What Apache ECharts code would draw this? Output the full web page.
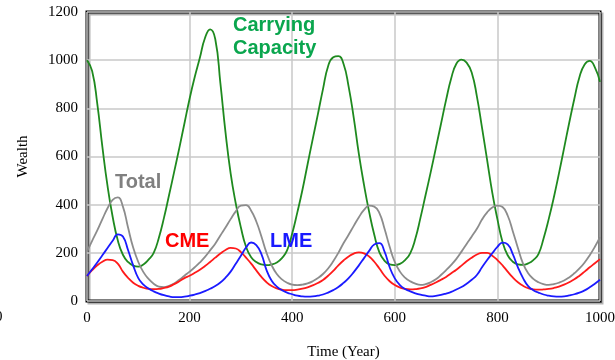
<!DOCTYPE html>
<html>
<head>
<meta charset="utf-8">
<script src="https://cdn.jsdelivr.net/npm/echarts@6/dist/echarts.min.js"></script>
<style>html,body{margin:0;padding:0;background:#fff;}#c{width:615px;height:360px;}</style>
</head>
<body>
<div id="c"></div>
<script>
// Time (Year) sample grid, every 10 years from 0 to 1000
const years = Array.from({length: 101}, (_, i) => i * 10);

const carryingCapacity = [
  1000, 955, 820, 640, 478, 350, 252, 192, 162, 147,
  143, 152, 172, 200, 262, 345, 440, 537, 636, 738,
  840, 930, 1010, 1092, 1128, 1088, 905, 700, 530, 405,
  305, 225, 182, 162, 152, 149, 152, 160, 178, 210,
  280, 368, 462, 568, 672, 775, 880, 975, 1012, 1017,
  985, 890, 760, 610, 482, 370, 275, 202, 167, 152,
  149, 154, 170, 198, 258, 345, 440, 535, 635, 735,
  835, 925, 985, 1002, 990, 948, 850, 720, 585, 450,
  340, 245, 190, 163, 152, 150, 156, 170, 195, 260,
  340, 430, 530, 635, 740, 840, 930, 982, 997, 970,
  910
];

const total = [
  205, 250, 293, 340, 385, 420, 430, 392, 305, 222,
  162, 120, 92, 72, 60, 58, 63, 73, 88, 105,
  122, 140, 160, 183, 210, 238, 272, 305, 340, 372,
  396, 398, 375, 330, 268, 200, 148, 112, 90, 76,
  68, 66, 68, 73, 82, 95, 112, 135, 165, 200,
  240, 275, 312, 348, 378, 396, 392, 365, 300, 225,
  162, 122, 97, 82, 72, 67, 70, 78, 90, 108,
  128, 150, 175, 205, 237, 268, 300, 338, 368, 388,
  396, 390, 355, 290, 220, 155, 115, 92, 78, 70,
  67, 70, 76, 85, 98, 115, 135, 160, 190, 225,
  265
];

const cme = [
  104, 128, 148, 163, 172, 170, 155, 122, 96, 76,
  63, 55, 50, 49, 50, 54, 60, 70, 82, 95,
  105, 117, 130, 145, 162, 180, 197, 212, 221, 218,
  203, 180, 155, 127, 100, 78, 62, 52, 47, 45,
  45, 47, 51, 57, 65, 75, 87, 105, 125, 148,
  168, 185, 197, 202, 198, 185, 163, 135, 105, 82,
  66, 56, 50, 48, 49, 52, 58, 67, 77, 88,
  100, 115, 130, 147, 165, 180, 193, 200, 200, 188,
  170, 148, 122, 98, 78, 63, 53, 48, 47, 48,
  50, 54, 60, 68, 78, 90, 105, 122, 140, 157,
  174
];

const lme = [
  104, 132, 160, 190, 220, 250, 277, 268, 212, 148,
  95, 68, 52, 40, 31, 24, 19, 16, 16, 18,
  22, 27, 33, 41, 51, 62, 77, 97, 122, 155,
  188, 222, 243, 232, 195, 128, 84, 60, 45, 35,
  28, 22, 19, 18, 19, 22, 27, 35, 45, 58,
  75, 95, 120, 148, 178, 208, 235, 240, 205, 140,
  94, 66, 50, 40, 32, 26, 22, 19, 21, 25,
  31, 38, 48, 58, 72, 88, 108, 140, 170, 198,
  225, 242, 235, 195, 140, 95, 62, 45, 35, 27,
  22, 19, 18, 19, 23, 28, 35, 44, 57, 72,
  88
];

const xTicks = [0, 200, 400, 600, 800, 1000];
const yTicks = [0, 200, 400, 600, 800, 1000, 1200];

function pairs(vals) { return years.map((y, i) => [y, vals[i]]); }

const chart = echarts.init(document.getElementById('c'), null, {renderer: 'canvas'});
const serif = '"Liberation Serif", "Times New Roman", serif';
const sans = '"Liberation Sans", Arial, sans-serif';

function line(name, vals, color) {
  return {
    name: name, type: 'line', data: pairs(vals), showSymbol: false,
    smooth: 0.5,
    lineStyle: {color: color, width: 1.8}, itemStyle: {color: color},
    animation: false, z: 3
  };
}

chart.setOption({
  animation: false,
  backgroundColor: '#fff',
  grid: {
    left: 87, right: 15, top: 12, bottom: 59,
    outerBoundsMode: 'none', containLabel: false,
    show: true, borderColor: '#000', borderWidth: 3, backgroundColor: '#fff',
    shadowColor: 'rgba(0,0,0,0.3)', shadowBlur: 0, shadowOffsetX: 2, shadowOffsetY: 2
  },
  xAxis: {
    type: 'value', min: xTicks[0], max: xTicks[xTicks.length - 1], interval: 200,
    name: 'Time (Year)', nameLocation: 'middle', nameGap: 44,
    nameTextStyle: {fontFamily: serif, fontSize: 15, color: '#000'},
    axisLine: {show: false}, axisTick: {show: false},
    axisLabel: {fontFamily: serif, fontSize: 15, color: '#000', margin: 10, formatter: v => String(v)},
    splitLine: {show: true, lineStyle: {color: '#c8c8c8', width: 1.5}}
  },
  yAxis: {
    type: 'value', min: yTicks[0], max: yTicks[yTicks.length - 1], interval: 200,
    name: 'Wealth', nameLocation: 'middle', nameGap: 56, nameRotate: 90,
    nameTextStyle: {fontFamily: serif, fontSize: 15, color: '#000'},
    axisLine: {show: false}, axisTick: {show: false},
    axisLabel: {fontFamily: serif, fontSize: 15, color: '#000', margin: 9, formatter: v => String(v)},
    splitLine: {show: true, lineStyle: {color: '#c8c8c8', width: 1.5}}
  },
  series: [
    line('Carrying Capacity', carryingCapacity, '#1f8a1f'),
    line('Total', total, '#8c8c8c'),
    line('CME', cme, '#ff1a1a'),
    line('LME', lme, '#1a1aff')
  ],
  graphic: [
    {type: 'text', left: 233, top: 14, z: 10, style: {text: 'Carrying\nCapacity', fill: '#0aa64e', font: 'bold 20px ' + sans, lineHeight: 23}},
    {type: 'text', left: 115, top: 172, z: 10, style: {text: 'Total', fill: '#808080', font: 'bold 20px ' + sans}},
    {type: 'text', left: 165, top: 231, z: 10, style: {text: 'CME', fill: '#ff0000', font: 'bold 20px ' + sans}},
    {type: 'text', left: 270, top: 231, z: 10, style: {text: 'LME', fill: '#1a1aff', font: 'bold 20px ' + sans}},
    {type: 'text', left: -5, top: 310, z: 10, style: {text: '0', fill: '#000', font: '15px ' + serif}}
  ]
});
</script>
</body>
</html>
